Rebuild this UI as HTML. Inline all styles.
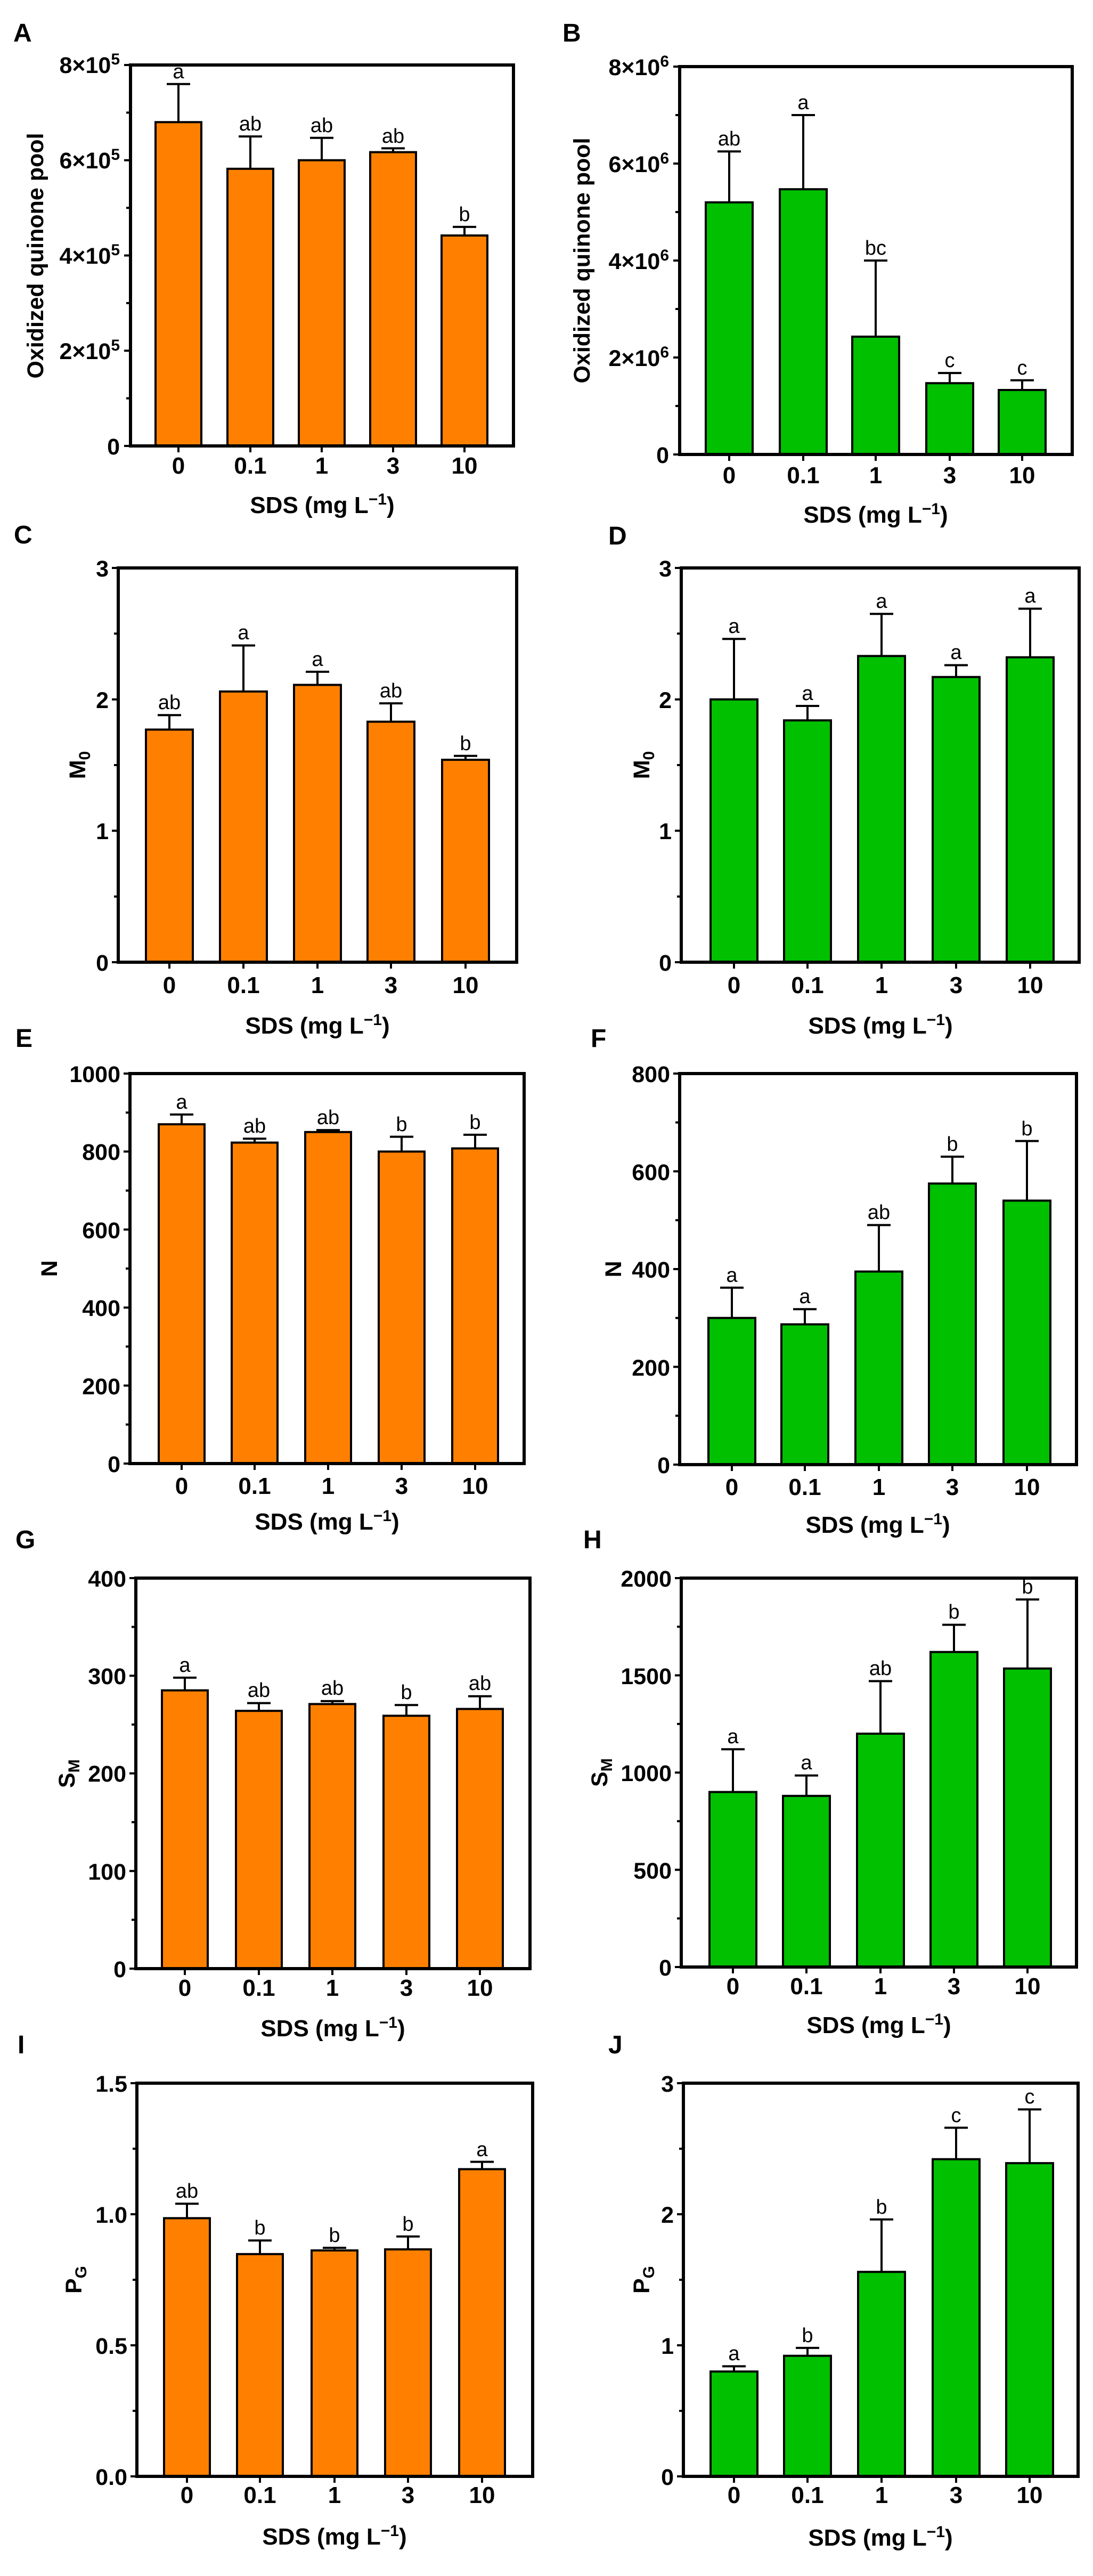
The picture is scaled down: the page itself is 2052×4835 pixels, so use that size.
<!DOCTYPE html>
<html><head><meta charset="utf-8"><style>
html,body{margin:0;padding:0;background:#fff}
svg{display:block}
text{font-family:"Liberation Sans",Arial,sans-serif;fill:#000}
.pl{font-size:48px;font-weight:bold}
.tk{font-size:43px;font-weight:bold;text-anchor:end}
.xt{font-size:44px;font-weight:bold;text-anchor:middle}
.xl{font-size:44px;font-weight:bold;text-anchor:middle}
.yl{font-size:43px;font-weight:bold;text-anchor:middle}
.lt{font-size:38px;text-anchor:middle}
.fr{fill:none;stroke:#000;stroke-width:6}
.o{fill:#FF8000;stroke:#000;stroke-width:4}
.g{fill:#00C000;stroke:#000;stroke-width:4}
.eb{stroke:#000;stroke-width:4;fill:none}
.ti{stroke:#000;stroke-width:4;fill:none}
</style></head><body>
<svg width="2052" height="4835" viewBox="0 0 2052 4835" xmlns="http://www.w3.org/2000/svg">

<text class="pl" x="25" y="78">A</text>
<text class="pl" x="1056" y="78">B</text>
<text class="pl" x="26" y="1020">C</text>
<text class="pl" x="1142" y="1022">D</text>
<text class="pl" x="29" y="1965">E</text>
<text class="pl" x="1109" y="1965">F</text>
<text class="pl" x="29" y="2906">G</text>
<text class="pl" x="1095" y="2906">H</text>
<text class="pl" x="33" y="3854">I</text>
<text class="pl" x="1142" y="3854">J</text>

<!-- A -->
<g transform="translate(245,837)">
<rect class="o" x="47" y="-607.75" width="86" height="607.75"/>
<rect class="o" x="182" y="-520.2" width="86" height="520.2"/>
<rect class="o" x="316" y="-536.25" width="86" height="536.25"/>
<rect class="o" x="450" y="-551.4" width="86" height="551.4"/>
<rect class="o" x="584" y="-395" width="86" height="395"/>
<path class="eb" d="M90,-607.75V-679.25M68,-679.25h44M225,-520.2V-580.9M203,-580.9h44M359,-536.25V-578.3M337,-578.3h44M493,-551.4V-558.6M471,-558.6h44M627,-395V-411.1M605,-411.1h44"/>
<text class="lt" x="90" y="-690">a</text><text class="lt" x="225" y="-592">ab</text><text class="lt" x="359" y="-589">ab</text><text class="lt" x="493" y="-569">ab</text><text class="lt" x="627" y="-422">b</text>
<rect class="fr" x="0" y="-715" width="719" height="715"/>
<path class="ti" d="M0,0h-12M0,-178.75h-12M0,-357.5h-12M0,-536.25h-12M0,-715h-12M0,-89.4h-8M0,-268.1h-8M0,-446.9h-8M0,-625.6h-8M90,0v12M225,0v12M359,0v12M493,0v12M627,0v12"/>
<text class="tk" x="-20" y="16">0</text>
<text class="tk" x="-20" y="-163">2×10<tspan font-size="30" dy="-16">5</tspan></text>
<text class="tk" x="-20" y="-342">4×10<tspan font-size="30" dy="-16">5</tspan></text>
<text class="tk" x="-20" y="-521">6×10<tspan font-size="30" dy="-16">5</tspan></text>
<text class="tk" x="-20" y="-700">8×10<tspan font-size="30" dy="-16">5</tspan></text>
<text class="xt" x="90" y="52">0</text><text class="xt" x="225" y="52">0.1</text><text class="xt" x="359" y="52">1</text><text class="xt" x="493" y="52">3</text><text class="xt" x="627" y="52">10</text>
<text class="xl" x="360" y="126">SDS (mg L<tspan font-size="30" dy="-16">−1</tspan><tspan dy="16">)</tspan></text>
<text class="yl" transform="translate(-164,-357) rotate(-90)" x="0" y="0">Oxidized quinone pool</text>
</g>

<!-- B -->
<g transform="translate(1276,853)">
<rect class="g" x="49" y="-473.2" width="88" height="473.2"/>
<rect class="g" x="188" y="-497.8" width="88" height="497.8"/>
<rect class="g" x="324" y="-221.1" width="88" height="221.1"/>
<rect class="g" x="463" y="-133.8" width="88" height="133.8"/>
<rect class="g" x="599" y="-121" width="88" height="121"/>
<path class="eb" d="M93,-473.2V-568.75M71,-568.75h44M232,-497.8V-637M210,-637h44M368,-221.1V-364M346,-364h44M507,-133.8V-152.9M485,-152.9h44M643,-121V-139.2M621,-139.2h44"/>
<text class="lt" x="93" y="-580">ab</text><text class="lt" x="232" y="-648">a</text><text class="lt" x="368" y="-375">bc</text><text class="lt" x="507" y="-164">c</text><text class="lt" x="643" y="-150">c</text>
<rect class="fr" x="0" y="-728" width="737" height="728"/>
<path class="ti" d="M0,0h-12M0,-182h-12M0,-364h-12M0,-546h-12M0,-728h-12M0,-91h-8M0,-273h-8M0,-455h-8M0,-637h-8M93,0v12M232,0v12M368,0v12M507,0v12M643,0v12"/>
<text class="tk" x="-20" y="16">0</text>
<text class="tk" x="-20" y="-166">2×10<tspan font-size="30" dy="-16">6</tspan></text>
<text class="tk" x="-20" y="-348">4×10<tspan font-size="30" dy="-16">6</tspan></text>
<text class="tk" x="-20" y="-530">6×10<tspan font-size="30" dy="-16">6</tspan></text>
<text class="tk" x="-20" y="-712">8×10<tspan font-size="30" dy="-16">6</tspan></text>
<text class="xt" x="93" y="54">0</text><text class="xt" x="232" y="54">0.1</text><text class="xt" x="368" y="54">1</text><text class="xt" x="507" y="54">3</text><text class="xt" x="643" y="54">10</text>
<text class="xl" x="368" y="128">SDS (mg L<tspan font-size="30" dy="-16">−1</tspan><tspan dy="16">)</tspan></text>
<text class="yl" transform="translate(-169,-364) rotate(-90)" x="0" y="0">Oxidized quinone pool</text>
</g>

<!-- C -->
<g transform="translate(222,1806)">
<rect class="o" x="52" y="-436.6" width="88" height="436.6"/>
<rect class="o" x="191" y="-508.1" width="88" height="508.1"/>
<rect class="o" x="330" y="-520.5" width="88" height="520.5"/>
<rect class="o" x="468" y="-451.4" width="88" height="451.4"/>
<rect class="o" x="608" y="-379.9" width="88" height="379.9"/>
<path class="eb" d="M96,-436.6V-463.7M74,-463.7h44M235,-508.1V-594.5M213,-594.5h44M374,-520.5V-545.1M352,-545.1h44M512,-451.4V-485.9M490,-485.9h44M652,-379.9V-387.3M630,-387.3h44"/>
<text class="lt" x="96" y="-475">ab</text><text class="lt" x="235" y="-606">a</text><text class="lt" x="374" y="-556">a</text><text class="lt" x="512" y="-497">ab</text><text class="lt" x="652" y="-398">b</text>
<rect class="fr" x="0" y="-740" width="748" height="740"/>
<path class="ti" d="M0,0h-12M0,-246.7h-12M0,-493.3h-12M0,-740h-12M0,-123.3h-8M0,-370h-8M0,-616.7h-8M96,0v12M235,0v12M374,0v12M512,0v12M652,0v12"/>
<text class="tk" x="-18" y="16">0</text><text class="tk" x="-18" y="-231">1</text><text class="tk" x="-18" y="-477">2</text><text class="tk" x="-18" y="-724">3</text>
<text class="xt" x="96" y="58">0</text><text class="xt" x="235" y="58">0.1</text><text class="xt" x="374" y="58">1</text><text class="xt" x="512" y="58">3</text><text class="xt" x="652" y="58">10</text>
<text class="xl" x="374" y="134">SDS (mg L<tspan font-size="30" dy="-16">−1</tspan><tspan dy="16">)</tspan></text>
<text class="yl" transform="translate(-62,-370) rotate(-90)" x="0" y="0">M<tspan font-size="30" dy="9">0</tspan></text>
</g>

<!-- D -->
<g transform="translate(1279,1806)">
<rect class="g" x="55" y="-493.3" width="88" height="493.3"/>
<rect class="g" x="193" y="-453.9" width="88" height="453.9"/>
<rect class="g" x="332" y="-574.7" width="88" height="574.7"/>
<rect class="g" x="472" y="-535.3" width="88" height="535.3"/>
<rect class="g" x="611" y="-572.3" width="88" height="572.3"/>
<path class="eb" d="M99,-493.3V-606.8M77,-606.8h44M237,-453.9V-481M215,-481h44M376,-574.7V-653.7M354,-653.7h44M516,-535.3V-557.5M494,-557.5h44M655,-572.3V-663.5M633,-663.5h44"/>
<text class="lt" x="99" y="-618">a</text><text class="lt" x="237" y="-492">a</text><text class="lt" x="376" y="-665">a</text><text class="lt" x="516" y="-569">a</text><text class="lt" x="655" y="-675">a</text>
<rect class="fr" x="0" y="-740" width="747" height="740"/>
<path class="ti" d="M0,0h-12M0,-246.7h-12M0,-493.3h-12M0,-740h-12M0,-123.3h-8M0,-370h-8M0,-616.7h-8M99,0v12M237,0v12M376,0v12M516,0v12M655,0v12"/>
<text class="tk" x="-18" y="16">0</text><text class="tk" x="-18" y="-231">1</text><text class="tk" x="-18" y="-477">2</text><text class="tk" x="-18" y="-724">3</text>
<text class="xt" x="99" y="58">0</text><text class="xt" x="237" y="58">0.1</text><text class="xt" x="376" y="58">1</text><text class="xt" x="516" y="58">3</text><text class="xt" x="655" y="58">10</text>
<text class="xl" x="374" y="134">SDS (mg L<tspan font-size="30" dy="-16">−1</tspan><tspan dy="16">)</tspan></text>
<text class="yl" transform="translate(-60,-370) rotate(-90)" x="0" y="0">M<tspan font-size="30" dy="9">0</tspan></text>
</g>

<!-- E -->
<g transform="translate(244,2747)">
<rect class="o" x="54" y="-636.8" width="86" height="636.8"/>
<rect class="o" x="191" y="-602.4" width="86" height="602.4"/>
<rect class="o" x="329" y="-622.2" width="86" height="622.2"/>
<rect class="o" x="467" y="-585.6" width="86" height="585.6"/>
<rect class="o" x="605" y="-591.5" width="86" height="591.5"/>
<path class="eb" d="M97,-636.8V-655.1M75,-655.1h44M234,-602.4V-609.8M212,-609.8h44M372,-622.2V-625.9M350,-625.9h44M510,-585.6V-613.4M488,-613.4h44M648,-591.5V-617.1M626,-617.1h44"/>
<text class="lt" x="97" y="-666">a</text><text class="lt" x="234" y="-621">ab</text><text class="lt" x="372" y="-637">ab</text><text class="lt" x="510" y="-624">b</text><text class="lt" x="648" y="-628">b</text>
<rect class="fr" x="0" y="-732" width="740" height="732"/>
<path class="ti" d="M0,0h-12M0,-146.4h-12M0,-292.8h-12M0,-439.2h-12M0,-585.6h-12M0,-732h-12M0,-73.2h-8M0,-219.6h-8M0,-366h-8M0,-512.4h-8M0,-658.8h-8M97,0v12M234,0v12M372,0v12M510,0v12M648,0v12"/>
<text class="tk" x="-18" y="16">0</text><text class="tk" x="-18" y="-130">200</text><text class="tk" x="-18" y="-277">400</text><text class="tk" x="-18" y="-423">600</text><text class="tk" x="-18" y="-570">800</text><text class="tk" x="-18" y="-716">1000</text>
<text class="xt" x="97" y="57">0</text><text class="xt" x="234" y="57">0.1</text><text class="xt" x="372" y="57">1</text><text class="xt" x="510" y="57">3</text><text class="xt" x="648" y="57">10</text>
<text class="xl" x="370" y="124">SDS (mg L<tspan font-size="30" dy="-16">−1</tspan><tspan dy="16">)</tspan></text>
<text class="yl" transform="translate(-137,-366) rotate(-90)" x="0" y="0">N</text>
</g>

<!-- F -->
<g transform="translate(1276,2749)">
<rect class="g" x="54" y="-275.3" width="88" height="275.3"/>
<rect class="g" x="191" y="-263.3" width="88" height="263.3"/>
<rect class="g" x="330" y="-362.4" width="88" height="362.4"/>
<rect class="g" x="468" y="-527.6" width="88" height="527.6"/>
<rect class="g" x="608" y="-495.5" width="88" height="495.5"/>
<path class="eb" d="M98,-275.3V-332.1M76,-332.1h44M235,-263.3V-291.8M213,-291.8h44M374,-362.4V-449.6M352,-449.6h44M512,-527.6V-578M490,-578h44M652,-495.5V-607.4M630,-607.4h44"/>
<text class="lt" x="98" y="-343">a</text><text class="lt" x="235" y="-303">a</text><text class="lt" x="374" y="-461">ab</text><text class="lt" x="512" y="-589">b</text><text class="lt" x="652" y="-618">b</text>
<rect class="fr" x="0" y="-734" width="745" height="734"/>
<path class="ti" d="M0,0h-12M0,-183.5h-12M0,-367h-12M0,-550.5h-12M0,-734h-12M0,-91.75h-8M0,-275.25h-8M0,-458.75h-8M0,-642.25h-8M98,0v12M235,0v12M374,0v12M512,0v12M652,0v12"/>
<text class="tk" x="-18" y="16">0</text><text class="tk" x="-18" y="-167">200</text><text class="tk" x="-18" y="-351">400</text><text class="tk" x="-18" y="-534">600</text><text class="tk" x="-18" y="-718">800</text>
<text class="xt" x="98" y="57">0</text><text class="xt" x="235" y="57">0.1</text><text class="xt" x="374" y="57">1</text><text class="xt" x="512" y="57">3</text><text class="xt" x="652" y="57">10</text>
<text class="xl" x="372" y="128">SDS (mg L<tspan font-size="30" dy="-16">−1</tspan><tspan dy="16">)</tspan></text>
<text class="yl" transform="translate(-110,-367) rotate(-90)" x="0" y="0">N</text>
</g>

<!-- G -->
<g transform="translate(255,3695)">
<rect class="o" x="49" y="-522.3" width="86" height="522.3"/>
<rect class="o" x="188" y="-483.8" width="86" height="483.8"/>
<rect class="o" x="326" y="-496.6" width="86" height="496.6"/>
<rect class="o" x="465" y="-474.6" width="86" height="474.6"/>
<rect class="o" x="603" y="-487.4" width="86" height="487.4"/>
<path class="eb" d="M92,-522.3V-546.1M70,-546.1h44M231,-483.8V-498.4M209,-498.4h44M369,-496.6V-502.1M347,-502.1h44M508,-474.6V-494.8M486,-494.8h44M646,-487.4V-511.3M624,-511.3h44"/>
<text class="lt" x="92" y="-557">a</text><text class="lt" x="231" y="-510">ab</text><text class="lt" x="369" y="-514">ab</text><text class="lt" x="508" y="-506">b</text><text class="lt" x="646" y="-523">ab</text>
<rect class="fr" x="0" y="-733" width="740" height="733"/>
<path class="ti" d="M0,0h-12M0,-183.25h-12M0,-366.5h-12M0,-549.75h-12M0,-733h-12M0,-91.6h-8M0,-274.9h-8M0,-458.1h-8M0,-641.4h-8M92,0v12M231,0v12M369,0v12M508,0v12M646,0v12"/>
<text class="tk" x="-18" y="16">0</text><text class="tk" x="-18" y="-167">100</text><text class="tk" x="-18" y="-351">200</text><text class="tk" x="-18" y="-534">300</text><text class="tk" x="-18" y="-717">400</text>
<text class="xt" x="92" y="51">0</text><text class="xt" x="231" y="51">0.1</text><text class="xt" x="369" y="51">1</text><text class="xt" x="508" y="51">3</text><text class="xt" x="646" y="51">10</text>
<text class="xl" x="370" y="127">SDS (mg L<tspan font-size="30" dy="-16">−1</tspan><tspan dy="16">)</tspan></text>
<text class="yl" transform="translate(-115,-366) rotate(-90)" x="0" y="0">S<tspan font-size="30" dy="9">M</tspan></text>
</g>

<!-- H -->
<g transform="translate(1279,3692)">
<rect class="g" x="53" y="-328.5" width="88" height="328.5"/>
<rect class="g" x="191" y="-321.2" width="88" height="321.2"/>
<rect class="g" x="330" y="-438" width="88" height="438"/>
<rect class="g" x="468" y="-591.3" width="88" height="591.3"/>
<rect class="g" x="606" y="-560.3" width="88" height="560.3"/>
<path class="eb" d="M97,-328.5V-408.8M75,-408.8h44M235,-321.2V-359.5M213,-359.5h44M374,-438V-536.6M352,-536.6h44M512,-591.3V-642.4M490,-642.4h44M650,-560.3V-689.9M628,-689.9h44"/>
<text class="lt" x="97" y="-420">a</text><text class="lt" x="235" y="-371">a</text><text class="lt" x="374" y="-548">ab</text><text class="lt" x="512" y="-654">b</text><text class="lt" x="650" y="-701">b</text>
<rect class="fr" x="0" y="-730" width="742" height="730"/>
<path class="ti" d="M0,0h-12M0,-182.5h-12M0,-365h-12M0,-547.5h-12M0,-730h-12M0,-91.25h-8M0,-273.75h-8M0,-456.25h-8M0,-638.75h-8M97,0v12M235,0v12M374,0v12M512,0v12M650,0v12"/>
<text class="tk" x="-18" y="16">0</text><text class="tk" x="-18" y="-166">500</text><text class="tk" x="-18" y="-349">1000</text><text class="tk" x="-18" y="-531">1500</text><text class="tk" x="-18" y="-714">2000</text>
<text class="xt" x="97" y="51">0</text><text class="xt" x="235" y="51">0.1</text><text class="xt" x="374" y="51">1</text><text class="xt" x="512" y="51">3</text><text class="xt" x="650" y="51">10</text>
<text class="xl" x="371" y="124">SDS (mg L<tspan font-size="30" dy="-16">−1</tspan><tspan dy="16">)</tspan></text>
<text class="yl" transform="translate(-139,-365) rotate(-90)" x="0" y="0">S<tspan font-size="30" dy="9">M</tspan></text>
</g>

<!-- I -->
<g transform="translate(257,4648)">
<rect class="o" x="51" y="-484.6" width="86" height="484.6"/>
<rect class="o" x="188" y="-417.2" width="86" height="417.2"/>
<rect class="o" x="328" y="-424.1" width="86" height="424.1"/>
<rect class="o" x="466" y="-426.1" width="86" height="426.1"/>
<rect class="o" x="605" y="-576.6" width="86" height="576.6"/>
<path class="eb" d="M94,-484.6V-511.7M72,-511.7h44M231,-417.2V-442.8M209,-442.8h44M371,-424.1V-429M349,-429h44M509,-426.1V-450.2M487,-450.2h44M648,-576.6V-590.4M626,-590.4h44"/>
<text class="lt" x="94" y="-523">ab</text><text class="lt" x="231" y="-454">b</text><text class="lt" x="371" y="-440">b</text><text class="lt" x="509" y="-461">b</text><text class="lt" x="648" y="-601">a</text>
<rect class="fr" x="0" y="-738" width="743" height="738"/>
<path class="ti" d="M0,0h-12M0,-246h-12M0,-492h-12M0,-738h-12M0,-123h-8M0,-369h-8M0,-615h-8M94,0v12M231,0v12M371,0v12M509,0v12M648,0v12"/>
<text class="tk" x="-18" y="16">0.0</text><text class="tk" x="-18" y="-230">0.5</text><text class="tk" x="-18" y="-476">1.0</text><text class="tk" x="-18" y="-722">1.5</text>
<text class="xt" x="94" y="50">0</text><text class="xt" x="231" y="50">0.1</text><text class="xt" x="371" y="50">1</text><text class="xt" x="509" y="50">3</text><text class="xt" x="648" y="50">10</text>
<text class="xl" x="371" y="128">SDS (mg L<tspan font-size="30" dy="-16">−1</tspan><tspan dy="16">)</tspan></text>
<text class="yl" transform="translate(-104,-369) rotate(-90)" x="0" y="0">P<tspan font-size="30" dy="9">G</tspan></text>
</g>

<!-- J -->
<g transform="translate(1283,4648)">
<rect class="g" x="51" y="-196.8" width="88" height="196.8"/>
<rect class="g" x="189" y="-226.3" width="88" height="226.3"/>
<rect class="g" x="328" y="-383.8" width="88" height="383.8"/>
<rect class="g" x="468" y="-595.3" width="88" height="595.3"/>
<rect class="g" x="606" y="-587.9" width="88" height="587.9"/>
<path class="eb" d="M95,-196.8V-206.6M73,-206.6h44M233,-226.3V-241.1M211,-241.1h44M372,-383.8V-482.2M350,-482.2h44M512,-595.3V-654.4M490,-654.4h44M650,-587.9V-688.8M628,-688.8h44"/>
<text class="lt" x="95" y="-218">a</text><text class="lt" x="233" y="-252">b</text><text class="lt" x="372" y="-493">b</text><text class="lt" x="512" y="-665">c</text><text class="lt" x="650" y="-700">c</text>
<rect class="fr" x="0" y="-738" width="741" height="738"/>
<path class="ti" d="M0,0h-12M0,-246h-12M0,-492h-12M0,-738h-12M0,-123h-8M0,-369h-8M0,-615h-8M95,0v12M233,0v12M372,0v12M512,0v12M650,0v12"/>
<text class="tk" x="-18" y="16">0</text><text class="tk" x="-18" y="-230">1</text><text class="tk" x="-18" y="-476">2</text><text class="tk" x="-18" y="-722">3</text>
<text class="xt" x="95" y="50">0</text><text class="xt" x="233" y="50">0.1</text><text class="xt" x="372" y="50">1</text><text class="xt" x="512" y="50">3</text><text class="xt" x="650" y="50">10</text>
<text class="xl" x="370" y="130">SDS (mg L<tspan font-size="30" dy="-16">−1</tspan><tspan dy="16">)</tspan></text>
<text class="yl" transform="translate(-64,-369) rotate(-90)" x="0" y="0">P<tspan font-size="30" dy="9">G</tspan></text>
</g>
</svg>
</body></html>
